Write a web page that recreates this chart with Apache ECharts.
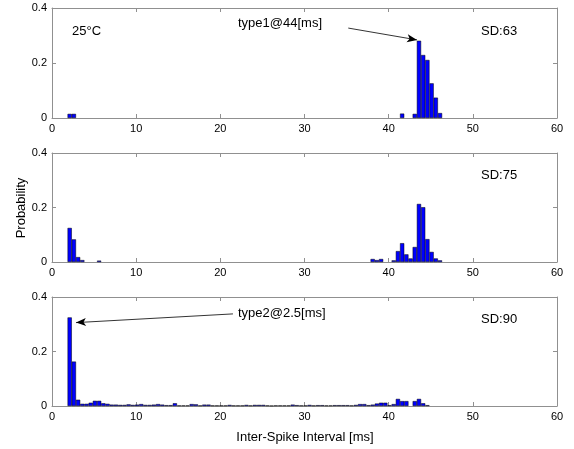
<!DOCTYPE html>
<html>
<head>
<meta charset="utf-8">
<script src="https://cdn.jsdelivr.net/npm/echarts@6/dist/echarts.min.js"></script>
<style>
html,body{margin:0;padding:0;background:#fff;}
#chart{width:574px;height:449px;}
</style>
</head>
<body>
<div id="chart"></div>
<script>
// ---- Data ----
const xTicks = [0, 10, 20, 30, 40, 50, 60];
const yTicks = [0, 0.2, 0.4];

// Panel 1 (SD:63)
const isi1 = [2.1, 2.6, 41.6, 43.1, 43.6, 44.1, 44.6, 45.1, 45.6, 46.1];
const prob1 = [0.015, 0.015, 0.016, 0.015, 0.281, 0.229, 0.211, 0.126, 0.074, 0.018];

// Panel 2 (SD:75)
const isi2 = [2.1, 2.6, 3.1, 3.6, 5.6, 38.1, 38.6, 39.1, 40.6, 41.1, 41.6, 42.1, 42.6, 43.1, 43.6, 44.1, 44.6, 45.1, 45.6, 46.1];
const prob2 = [0.125, 0.083, 0.018, 0.007, 0.005, 0.011, 0.007, 0.011, 0.006, 0.040, 0.069, 0.028, 0.013, 0.055, 0.213, 0.201, 0.084, 0.037, 0.013, 0.006];

// Panel 3 (SD:90)
const isi3 = [2.1, 2.6, 3.1, 3.6, 4.1, 4.6, 5.1, 5.6, 6.1, 6.6, 7.1, 7.6, 8.1, 8.6, 9.1, 9.6,
  10.1, 10.6, 11.1, 11.6, 12.1, 12.6, 13.1, 13.6, 14.1, 14.6, 15.1, 15.6, 16.1, 16.6, 17.1, 17.6,
  18.1, 18.6, 19.1, 19.6, 20.1, 20.6, 21.1, 21.6, 22.1, 22.6, 23.1, 23.6, 24.1, 24.6, 25.1, 25.6,
  26.1, 26.6, 27.1, 27.6, 28.1, 28.6, 29.1, 29.6, 30.1, 30.6, 31.1, 31.6, 32.1, 32.6, 33.1, 33.6,
  34.1, 34.6, 35.1, 35.6, 36.1, 36.6, 37.1, 37.6, 38.1, 38.6, 39.1, 39.6, 40.1, 40.6, 41.1, 41.6,
  42.1, 43.1, 43.6, 44.1, 44.6];
const prob3 = [0.325, 0.163, 0.023, 0.008, 0.008, 0.012, 0.019, 0.019, 0.010, 0.008, 0.005, 0.005, 0.004, 0.004, 0.006, 0.004,
  0.005, 0.007, 0.004, 0.004, 0.005, 0.007, 0.005, 0.003, 0.003, 0.010, 0.002, 0.002, 0.002, 0.007, 0.006, 0.002,
  0.005, 0.005, 0.002, 0.002, 0.002, 0.002, 0.004, 0.002, 0.002, 0.002, 0.004, 0.002, 0.004, 0.004, 0.004, 0.002,
  0.001, 0.002, 0.002, 0.002, 0.002, 0.005, 0.003, 0.002, 0.002, 0.004, 0.002, 0.003, 0.003, 0.002, 0.002, 0.003,
  0.003, 0.003, 0.003, 0.002, 0.004, 0.007, 0.007, 0.003, 0.005, 0.009, 0.012, 0.012, 0.003, 0.007, 0.026, 0.018,
  0.018, 0.018, 0.026, 0.010, 0.003];

const panelLabels = ['SD:63', 'SD:75', 'SD:90'];
const arrow1 = [[35.2, 0.327], [43.37, 0.284]];
const arrow3 = [[21.5, 0.338], [2.85, 0.306]];

// ---- Chart ----
const FONT = '"Liberation Sans", Arial, Helvetica, sans-serif';
const AX = '#909090';
const grids = [
  {left: 52, top: 8, width: 505, height: 110},
  {left: 52, top: 153, width: 505, height: 109},
  {left: 52, top: 297, width: 505, height: 109}
];

const xAxes = [], yAxes = [];
grids.forEach((g, i) => {
  const common = {
    type: 'value', gridIndex: i, min: xTicks[0], max: xTicks[xTicks.length - 1], interval: 10,
    axisLine: {show: true, onZero: false, lineStyle: {color: AX, width: 1}},
    axisTick: {show: true, inside: true, length: 4, lineStyle: {color: AX}},
    splitLine: {show: false}
  };
  xAxes.push(Object.assign({}, common, {position: 'bottom',
    axisLabel: {show: true, color: '#000', fontSize: 11, fontFamily: FONT, margin: 5}}));
  xAxes.push(Object.assign({}, common, {position: 'top', axisLabel: {show: false}}));
  const ycommon = {
    type: 'value', gridIndex: i, min: yTicks[0], max: yTicks[yTicks.length - 1], interval: 0.2,
    axisLine: {show: true, onZero: false, lineStyle: {color: AX, width: 1}},
    axisTick: {show: true, inside: true, length: 4, lineStyle: {color: AX}},
    splitLine: {show: false}
  };
  yAxes.push(Object.assign({}, ycommon, {position: 'left',
    axisLabel: {show: true, color: '#000', fontSize: 11, fontFamily: FONT, margin: 5,
      formatter: v => (v === 0 ? '0' : v.toFixed(1))}}));
  yAxes.push(Object.assign({}, ycommon, {position: 'right', axisLabel: {show: false}}));
});

function pairs(xs, ys) { return xs.map((x, i) => [x, ys[i]]); }

function barSeries(idx, xs, ys, arrow) {
  const s = {
    type: 'bar', xAxisIndex: idx * 2, yAxisIndex: idx * 2,
    data: pairs(xs, ys), barWidth: 4.2,
    itemStyle: {color: '#0000ff', borderColor: '#000', borderWidth: 0.5},
    silent: true, animation: false
  };
  if (arrow) {
    s.markLine = {
      silent: true, animation: false, symbol: ['none', 'arrow'], symbolSize: [6, 10],
      label: {show: false},
      lineStyle: {color: '#000', width: 0.8, type: 'solid'},
      data: [[{coord: arrow[0]}, {coord: arrow[1]}]]
    };
  }
  return s;
}

function txt(text, x, y, extra) {
  return Object.assign({
    type: 'text', x: x, y: y, silent: true,
    style: {text: text, fill: '#000', font: '13px ' + FONT, align: 'left', verticalAlign: 'middle'}
  }, extra || {});
}

const option = {
  backgroundColor: '#fff',
  animation: false,
  grid: grids,
  xAxis: xAxes,
  yAxis: yAxes,
  series: [
    barSeries(0, isi1, prob1, arrow1),
    barSeries(1, isi2, prob2, null),
    barSeries(2, isi3, prob3, arrow3)
  ],
  graphic: [
    txt('25°C', 72, 31),
    txt('type1@44[ms]', 238, 23),
    txt(panelLabels[0], 481, 31),
    txt(panelLabels[1], 481, 175),
    txt(panelLabels[2], 481, 319),
    txt('type2@2.5[ms]', 238, 313),
    {type: 'text', x: 21, y: 208, rotation: Math.PI / 2, silent: true,
      style: {text: 'Probability', fill: '#000', font: '13px ' + FONT, align: 'center', verticalAlign: 'middle'}},
    {type: 'text', x: 305, y: 437, silent: true,
      style: {text: 'Inter-Spike Interval [ms]', fill: '#000', font: '13px ' + FONT, align: 'center', verticalAlign: 'middle'}}
  ]
};

const chart = echarts.init(document.getElementById('chart'), null, {renderer: 'canvas'});
chart.setOption(option);
</script>
</body>
</html>
